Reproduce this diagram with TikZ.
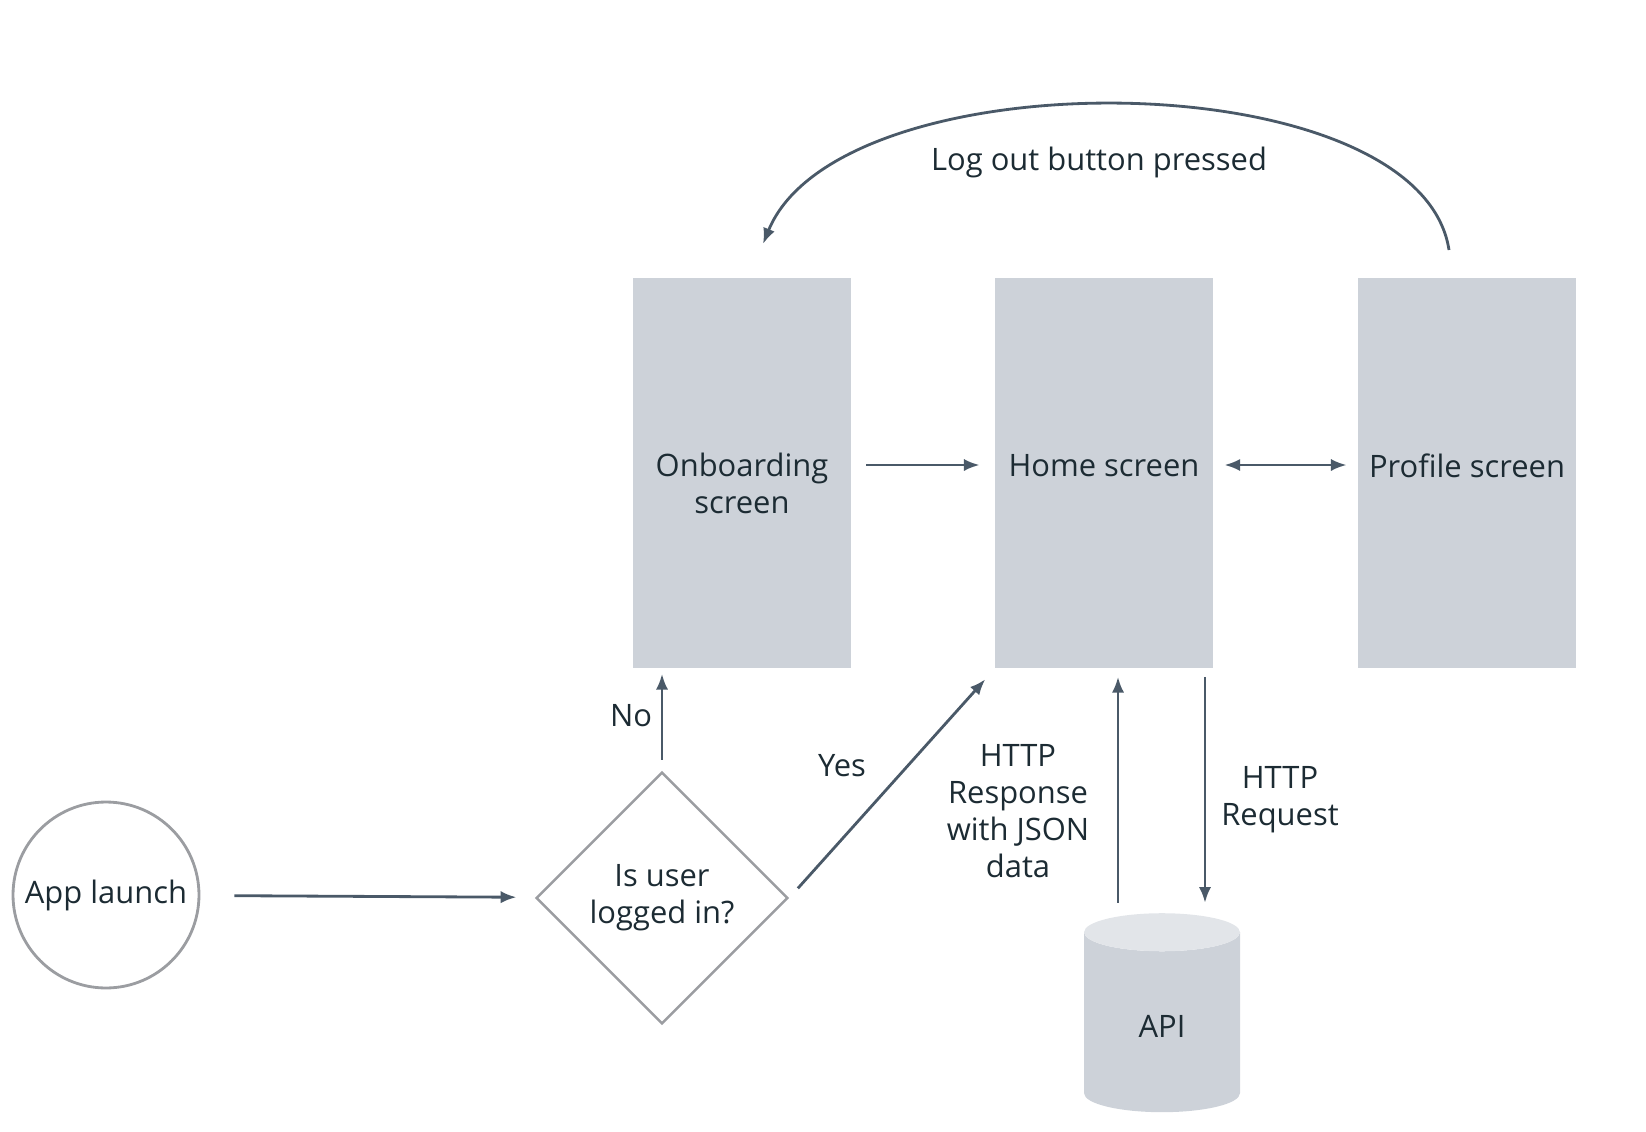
\documentclass[tikz,border=0pt]{standalone}
\usepackage{fontspec}
\setmainfont{Open Sans}
\usetikzlibrary{arrows.meta, positioning, shapes.geometric}

\definecolor{screengray}{HTML}{CDD2D9}
\definecolor{captop}{HTML}{E2E5E9}
\definecolor{linkgray}{HTML}{4A5968}
\definecolor{outline}{HTML}{9B9DA1}
\definecolor{ink}{HTML}{1C2B33}

\tikzset{
  screen/.style={rectangle, fill=screengray, minimum width=4.36cm, minimum height=7.82cm},
  screenlabel/.style n args={2}{label={[text=ink, align=center, yshift=#2]center:#1}},
  startnode/.style={circle, draw=outline, line width=1.6pt, minimum size=3.72cm, inner sep=0pt, text=ink},
  decision/.style={diamond, draw=outline, line width=1.4pt, minimum width=5.04cm, minimum height=5.04cm, inner sep=0pt, align=center, text=ink},
  apibox/.style={cylinder, shape border rotate=90, aspect=0.65, draw=none, cylinder uses custom fill, cylinder body fill=screengray, cylinder end fill=captop, minimum width=3.12cm, minimum height=3.98cm, text=ink},
  link/.style={draw=linkgray, line width=1.6pt, -{Latex[length=9pt,width=7pt]}},
  note/.style={align=center, text=ink}
}

\begin{document}
\begin{tikzpicture}[x=0.02cm, y=-0.02cm, font=\fontsize{17.6}{21}\selectfont]
\useasboundingbox (0,0) rectangle (1646,1132);

% screens
\node[screen, screenlabel={Onboarding\\screen}{-0.2cm}] (onboard) at (742,473) {};
\node[screen, screenlabel={Home screen}{0.15cm}] (home) at (1104,473) {};
\node[screen, screenlabel={Profile screen}{0.15cm}] (profile) at (1467,473) {};

% start and decision
\node[startnode] (launch) at (106,895) {App launch};
\node[decision] (check) at (662,898) {Is user\\logged in?};

% backend
\node[apibox] (api) at (1162,1026) {API};

\draw[link, shorten <=0.68cm, shorten >=0.38cm] (launch) -- (check);
\draw[link, shorten <=0.22cm, shorten >=0.1cm] (check.north) -- (check.north |- onboard.south);
\node[note] (no) at (631,716) {No};
\draw[link, shorten <=0.26cm, shorten >=0.28cm] (check.east) -- (home.south west);
\node[note] (yes) at (842,766) {Yes};

\draw[link, shorten <=0.3cm, shorten >=0.3cm] ([yshift=0.16cm]onboard.east) -- ([yshift=0.16cm]home.west);
\draw[link, {Latex[length=9pt,width=7pt]}-{Latex[length=9pt,width=7pt]}, shorten <=0.22cm, shorten >=0.22cm] ([yshift=0.16cm]home.east) -- ([yshift=0.16cm]profile.west);

% api calls
\draw[link, shorten <=0.2cm, shorten >=0.16cm] (1118,0 |- api.north) -- (1118,0 |- home.south);
\draw[link, shorten <=0.16cm, shorten >=0.2cm] (1205,0 |- home.south) -- (1205,0 |- api.north);
\node[note] (response) at (1018,811) {HTTP\\Response\\with JSON\\data};
\node[note] (request) at (1280,800) {HTTP\\Request};

% log out loop
\coordinate (outstart) at (1449,250);
\coordinate (outend) at (763,244);
\draw[link] (outstart) .. controls (1420,60) and (840,55) .. (outend);
\node[note] (logout) at (1099,162) {Log out button pressed};
\end{tikzpicture}
\end{document}
